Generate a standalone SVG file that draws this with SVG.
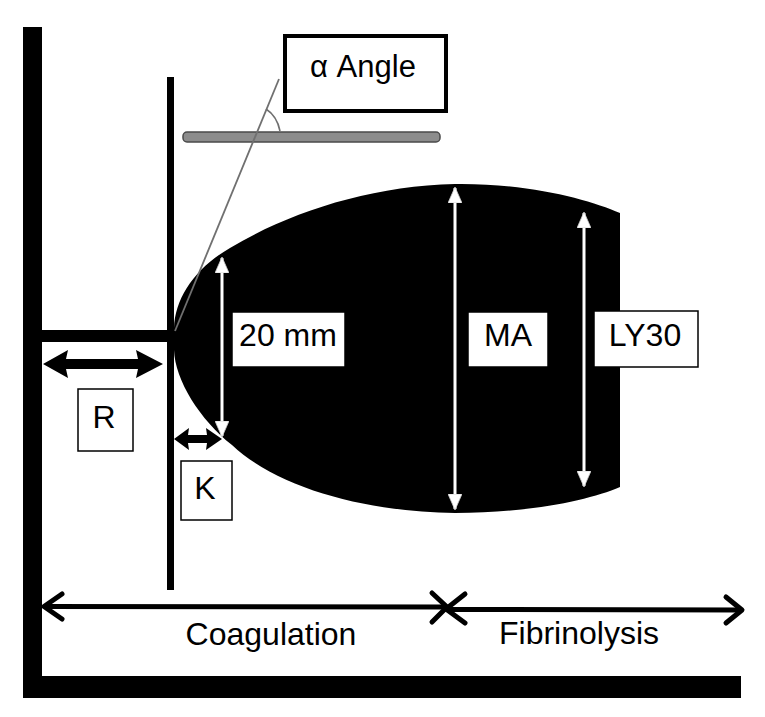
<svg xmlns="http://www.w3.org/2000/svg" width="765" height="717" viewBox="0 0 765 717">
<style>
.lbl{font-family:"Liberation Sans",Arial,sans-serif;font-size:32px;fill:#000;text-anchor:middle}
.box{fill:#fff;stroke:#000;stroke-width:1.5}
.blk{fill:#000}
.wl{stroke:#fff;stroke-width:3;fill:none}
.chev{fill:none;stroke:#000;stroke-width:5;stroke-linecap:round;stroke-linejoin:round}
</style>
<defs>
<marker id="wtri" markerUnits="userSpaceOnUse" markerWidth="16" markerHeight="14" viewBox="0 0 16 14" refX="15" refY="7" orient="auto-start-reverse">
<path d="M0,0 L16,7 L0,14 Z" fill="#fff" stroke="#ccc" stroke-width="0.8"/>
</marker>
</defs>
<rect width="765" height="717" fill="#fff"/>
<g id="axes">
<rect class="blk" x="23" y="27" width="19" height="671"/>
<rect class="blk" x="23" y="676" width="718" height="22"/>
<rect class="blk" x="167" y="77" width="7" height="513"/>
<rect class="blk" x="42" y="330" width="132" height="12"/>
</g>
<g id="tracing">
<path class="blk" d="M174 328 C175 298 195 268 230 248 C290 212 370 186 455 184 C530 183 590 200 620 213 L620 487 C590 500 530 513 455 513 C370 512 280 490 232 445 C200 420 175 380 174 350 Z"/>
</g>
<g id="angle-guide">
<rect x="183" y="132" width="257" height="10" rx="4" fill="#8c8c8c" stroke="#4a4a4a" stroke-width="1.5"/>
<line x1="175" y1="331" x2="279" y2="79" stroke="#707070" stroke-width="1.8"/>
<path d="M266 109 Q277 116 280 131" fill="none" stroke="#707070" stroke-width="1.6"/>
</g>
<g id="connectors">
<polygon class="blk" points="43,364 68,350 66,359 138,359 136,350 163,364 136,378 138,369 66,369 68,378"/>
<polygon class="blk" points="174,439 189,428 188,435 207,435 206,428 222,439 206,450 207,443 188,443 189,450"/>
<line class="wl" x1="222" y1="258" x2="222" y2="436" marker-start="url(#wtri)" marker-end="url(#wtri)"/>
<line class="wl" x1="455" y1="188" x2="455" y2="509" marker-start="url(#wtri)" marker-end="url(#wtri)"/>
<line class="wl" x1="584" y1="213" x2="584" y2="486" marker-start="url(#wtri)" marker-end="url(#wtri)"/>
<line x1="45" y1="606.5" x2="446" y2="607" stroke="#000" stroke-width="5"/>
<path class="chev" d="M62 594 L44 606.5 L62 619"/>
<path class="chev" d="M432 593 L447 607 L432 622"/>
<line x1="447" y1="609.5" x2="741" y2="610" stroke="#000" stroke-width="5"/>
<path class="chev" d="M465 594 L446 609 L465 623"/>
<path class="chev" d="M726 597 L742 610 L726 623"/>
</g>
<g id="box-alpha">
<rect x="285" y="36" width="161" height="75" fill="#fff" stroke="#000" stroke-width="4"/>
<text class="lbl" x="363" y="77" style="font-size:31px">α Angle</text>
</g>
<g id="box-20mm">
<rect class="box" x="232" y="312" width="113" height="55"/>
<text class="lbl" x="288" y="346">20 mm</text>
</g>
<g id="box-ma">
<rect class="box" x="468" y="312" width="80" height="55"/>
<text class="lbl" x="508" y="346">MA</text>
</g>
<g id="box-ly30">
<rect class="box" x="594" y="311" width="104" height="56"/>
<text class="lbl" x="645" y="346">LY30</text>
</g>
<g id="box-r">
<rect class="box" x="78" y="389" width="55" height="62"/>
<text class="lbl" x="104" y="428">R</text>
</g>
<g id="box-k">
<rect class="box" x="181" y="461" width="51" height="59"/>
<text class="lbl" x="205" y="499">K</text>
</g>
<g id="label-coagulation">
<text class="lbl" x="271" y="645">Coagulation</text>
</g>
<g id="label-fibrinolysis">
<text class="lbl" x="579" y="644">Fibrinolysis</text>
</g>
</svg>
